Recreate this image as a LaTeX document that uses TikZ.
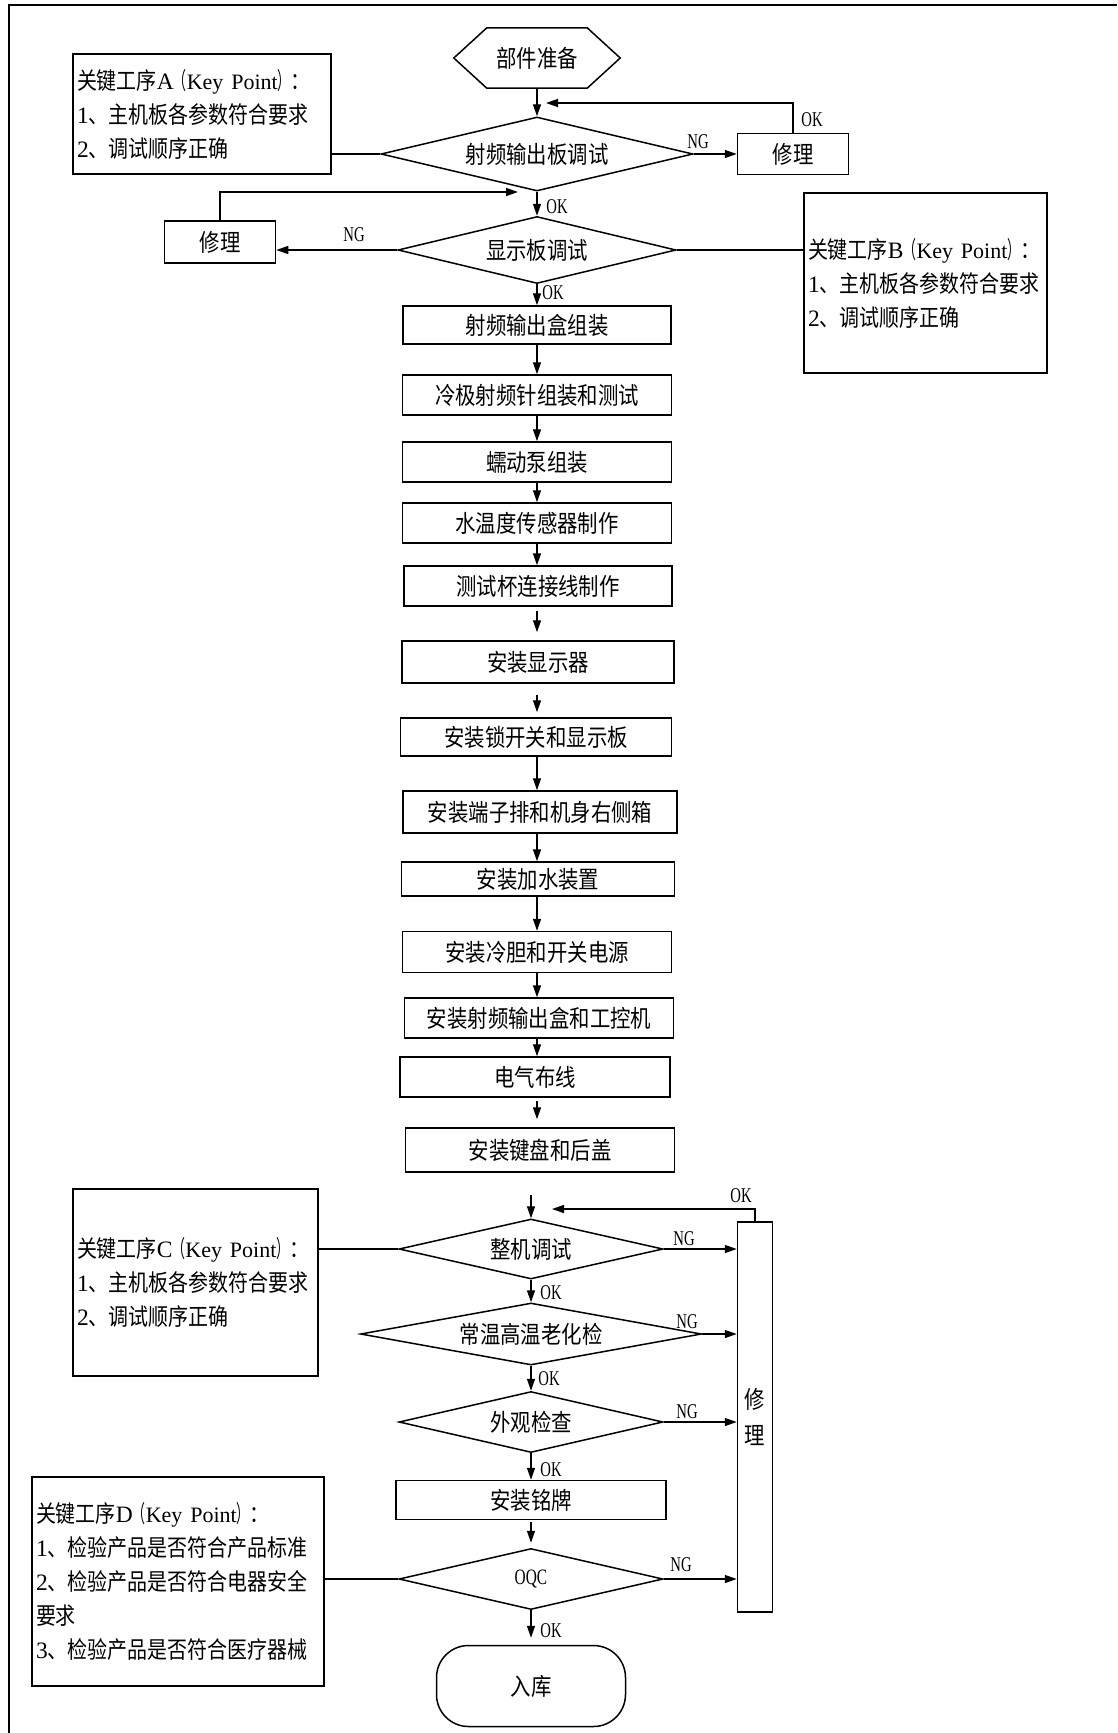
\documentclass[tikz,border=0pt]{standalone}
\usepackage{fontspec}
\setmainfont{Liberation Serif}
\newfontfamily\cjk[FakeStretch=0.85]{Noto Sans CJK SC}
\newfontfamily\cjkn[FakeStretch=0.55]{Noto Sans CJK SC}
\newfontfamily\lblfont[FakeStretch=0.7]{Liberation Serif}
\usetikzlibrary{shapes.geometric,arrows.meta}
\newcommand\kpt[1]{{\cjk 关键工序}#1{\cjkn （}{\fontsize{22}{34}\selectfont Key~Point}{\cjkn ）}{\cjk ：}}
\newcommand\cj[1]{{\cjk #1}}
\begin{document}
\begin{tikzpicture}[x=1pt,y=-1pt,
  shp/.style={line width=1.5pt},
  proc/.style={draw, line width=1.5pt, inner sep=0pt, font=\fontsize{24}{26}\cjk},
  dec/.style={draw, diamond, inner sep=0pt, line width=1.5pt, font=\fontsize{24}{26}\cjk},
  keyb/.style={draw, line width=1.5pt, align=left, inner xsep=4pt, inner ysep=0pt, font=\fontsize{23.5}{34}\selectfont},
  arr/.style={-{Triangle[length=12pt,width=8pt]}, line width=1.4pt},
  ln/.style={line width=1.4pt},
  lbl/.style={font=\fontsize{21}{21}\lblfont, inner sep=0pt}]
\useasboundingbox (0,0) rectangle (1117,1733);
\draw[line width=1.8pt] (9,1733) -- (9,5) -- (1117,5);

% top part
\node[font=\fontsize{24}{26}\cjk, minimum width=166pt, minimum height=60pt, inner sep=0pt] (start) at (537,58) {部件准备};
\draw[shp] (start.west) -- ([xshift=33pt]start.north west) -- ([xshift=-33pt]start.north east) -- (start.east) -- ([xshift=-33pt]start.south east) -- ([xshift=33pt]start.south west) -- cycle;

\node[dec, minimum width=312pt, minimum height=74pt, aspect=4.2] (D1) at (537,154) {射频输出板调试};
\node[proc, minimum width=111pt, minimum height=41pt] (R1) at (793,154) {修理};
\node[keyb, text width=250pt, minimum height=120pt] (KA) at (202,114)
  {\kpt{A}\\1\cj{、主机板各参数符合要求}\\2\cj{、调试顺序正确}};

\node[dec, minimum width=278pt, minimum height=67pt, aspect=4.15] (D2) at (537,250) {显示板调试};
\node[proc, minimum width=111pt, minimum height=42pt] (R2) at (220,242) {修理};
\node[keyb, text width=235pt, minimum height=180pt] (KB) at (925.5,283)
  {\kpt{B}\\1\cj{、主机板各参数符合要求}\\2\cj{、调试顺序正确}};

\node[proc, minimum width=268pt, minimum height=38pt] (B1) at (537,325) {射频输出盒组装};
\node[proc, minimum width=269pt, minimum height=40pt] (B2) at (537,395) {冷极射频针组装和测试};
\node[proc, minimum width=269pt, minimum height=40pt] (B3) at (537,462) {蠕动泵组装};
\node[proc, minimum width=269pt, minimum height=40pt] (B4) at (537,523) {水温度传感器制作};
\node[proc, minimum width=268pt, minimum height=40pt] (B5) at (538,586) {测试杯连接线制作};
\node[proc, minimum width=272pt, minimum height=42pt] (B6) at (538,662) {安装显示器};
\node[proc, minimum width=271pt, minimum height=38pt] (B7) at (536,737) {安装锁开关和显示板};
\node[proc, minimum width=274pt, minimum height=42pt] (B8) at (540,812) {安装端子排和机身右侧箱};
\node[proc, minimum width=273pt, minimum height=34pt] (B9) at (538,879) {安装加水装置};
\node[proc, minimum width=269pt, minimum height=41pt] (B10) at (537,952) {安装冷胆和开关电源};
\node[proc, minimum width=269pt, minimum height=40pt] (B11) at (539,1018) {安装射频输出盒和工控机};
\node[proc, minimum width=270pt, minimum height=40pt] (B12) at (535,1077) {电气布线};
\node[proc, minimum width=269pt, minimum height=44pt] (B13) at (540,1150) {安装键盘和后盖};

% lower part
\node[dec, minimum width=264pt, minimum height=60pt, aspect=4.4] (D3) at (531,1249) {整机调试};
\node[dec, minimum width=341pt, minimum height=62pt, aspect=5.5] (D4) at (531,1334) {常温高温老化检};
\node[dec, minimum width=264pt, minimum height=61pt, aspect=4.3] (D5) at (531,1422) {外观检查};
\node[proc, minimum width=270pt, minimum height=39pt] (B14) at (531,1500) {安装铭牌};
\node[dec, minimum width=264pt, minimum height=61pt, aspect=4.3] (D6) at (531,1579) {\fontsize{22}{22}\lblfont OQC};
\node[draw, line width=1.5pt, rounded corners=32pt, minimum width=189pt, minimum height=81pt, inner sep=0pt, font=\fontsize{24}{26}\cjk] (End) at (531,1686) {入库};
\node[proc, minimum width=35pt, minimum height=390pt, align=center, font=\fontsize{24}{36}\cjk] (Rt) at (755,1417) {修\\理};
\node[keyb, text width=237pt, minimum height=187pt] (KC) at (195.5,1282.5)
  {\kpt{C}\\1\cj{、主机板各参数符合要求}\\2\cj{、调试顺序正确}};
\node[keyb, text width=284pt, minimum height=209pt] (KD) at (178,1581.5)
  {\kpt{D}\\1\cj{、检验产品是否符合产品标准}\\2\cj{、检验产品是否符合电器安全}\\\cj{要求}\\3\cj{、检验产品是否符合医疗器械}};

% main arrows
\draw[arr] (start.south) -- (D1.north);
\draw[arr] (D1.south) -- (D2.north);
\draw[arr] (D2.south) -- (B1.north -| start);
\foreach \a/\b in {B1/B2,B2/B3,B3/B4,B4/B5,B7/B8,B8/B9,B9/B10,B10/B11,B11/B12}
  \draw[arr] (\a.south -| start) -- (\b.north -| start);
\draw[arr, shorten <=4pt, shorten >=8pt] (B5.south -| start) -- (B6.north -| start);
\draw[arr, shorten <=11pt, shorten >=5pt] (B6.south -| start) -- (B7.north -| start);
\draw[arr, shorten <=3pt, shorten >=8pt] (B12.south -| start) -- (B13.north -| start);
\coordinate (c13) at (531,1195);
\draw[arr] (c13) -- (D3.north);
\draw[arr] (D3.south) -- (D4.north);
\draw[arr] (D4.south) -- (D5.north);
\draw[arr] (D5.south) -- (B14.north);
\draw[arr, shorten <=2pt, shorten >=5pt] (B14.south) -- (D6.north);
\draw[arr, shorten >=7pt] (D6.south) -- (End.north);

% side connections
\draw[arr] (D1.east) -- (R1.west);
\coordinate (oka) at (546,103);
\draw[arr] (R1.north) |- (oka);
\draw[ln] (D1.west) -- (D1.west -| KA.east);
\draw[arr] (D2.west) -- (D2.west -| R2.east);
\coordinate (okb) at (518,192);
\draw[arr] (R2.north) |- (okb);
\draw[ln] (D2.east) -- (D2.east -| KB.west);
\draw[ln] (D3.west) -- (D3.west -| KC.east);
\draw[ln] (D6.west) -- (D6.west -| KD.east);
\draw[arr] (D3.east) -- (D3.east -| Rt.west);
\draw[arr] (D4.east) -- (D4.east -| Rt.west);
\draw[arr] (D5.east) -- (D5.east -| Rt.west);
\draw[arr] (D6.east) -- (D6.east -| Rt.west);
\coordinate (okc) at (552,1209);
\draw[arr] (Rt.north) |- (okc);

% labels
\node[lbl] (ng1) at (698,142) {NG};
\node[lbl] (ok1) at (812,120) {OK};
\node[lbl] (ok2) at (557,207) {OK};
\node[lbl] (ng2) at (354,235) {NG};
\node[lbl] (ok3) at (553,293) {OK};
\node[lbl] (ok4) at (741,1196) {OK};
\node[lbl] (ng3) at (684,1239) {NG};
\node[lbl] (ok5) at (551,1293) {OK};
\node[lbl] (ng4) at (687,1322) {NG};
\node[lbl] (ok6) at (549,1379) {OK};
\node[lbl] (ng5) at (687,1412) {NG};
\node[lbl] (ok7) at (551,1470) {OK};
\node[lbl] (ng6) at (681,1565) {NG};
\node[lbl] (ok8) at (551,1631) {OK};
\end{tikzpicture}
\end{document}
